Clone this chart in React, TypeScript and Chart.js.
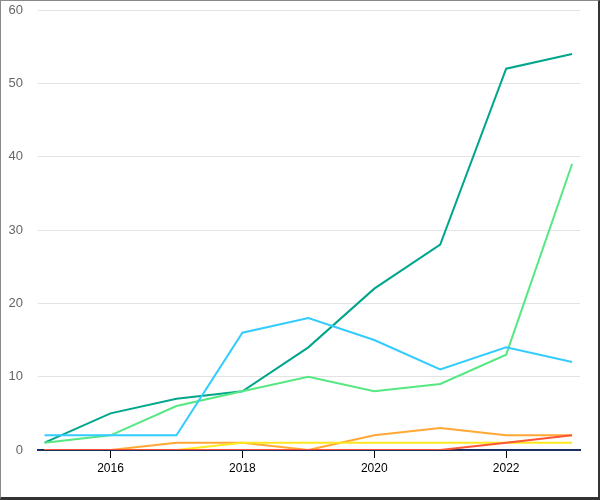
import React, { useEffect, useRef } from "react";
import { Chart, registerables } from "chart.js";

Chart.register(...registerables);

const years = [2015, 2016, 2017, 2018, 2019, 2020, 2021, 2022, 2023];
const xTicks = [2016, 2018, 2020, 2022];
const yTicks = [0, 10, 20, 30, 40, 50, 60];

const tealValues = [1, 5, 7, 8, 14, 22, 28, 52, 54];
const greenValues = [1, 2, 6, 8, 10, 8, 9, 13, 39];
const blueValues = [2, 2, 2, 16, 18, 15, 11, 14, 12];
const orangeValues = [0, 0, 1, 1, 0, 2, 3, 2, 2];
const yellowValues = [0, 0, 0, 1, 1, 1, 1, 1, 1];
const redValues = [0, 0, 0, 0, 0, 0, 0, 1, 2];

const series = [
  { name: "Red", values: redValues, color: "#ff5533" },
  { name: "Yellow", values: yellowValues, color: "#ffe81f" },
  { name: "Orange", values: orangeValues, color: "#ffa836" },
  { name: "Blue", values: blueValues, color: "#33ccff" },
  { name: "Green", values: greenValues, color: "#55e883" },
  { name: "Teal", values: tealValues, color: "#00a68c" },
];

export default function App() {
  const ref = useRef<HTMLCanvasElement | null>(null);

  useEffect(() => {
    document.body.style.margin = "0";
    const canvas = ref.current;
    if (!canvas) return;
    const chart = new Chart(canvas, {
      type: "line",
      data: {
        datasets: series.map((s) => ({
          label: s.name,
          data: years.map((y, i) => ({ x: y, y: s.values[i] })),
          borderColor: s.color,
          backgroundColor: s.color,
          borderWidth: 2,
          pointRadius: 0,
          tension: 0,
          fill: false,
        })),
      },
      options: {
        responsive: false,
        animation: false,
        layout: { padding: { left: 0, top: 10, right: 20, bottom: 2 } },
        plugins: { legend: { display: false }, tooltip: { enabled: false } },
        scales: {
          x: {
            type: "linear",
            min: 2014.9,
            max: 2023.12,
            afterBuildTicks: (scale: any) => {
              scale.ticks = xTicks.map((v) => ({ value: v }));
            },
            afterFit: (scale: any) => {
              scale.height = 48;
            },
            ticks: {
              color: "#000",
              font: { family: "Liberation Sans, Arial, sans-serif", size: 12 },
              padding: 3,
              maxRotation: 0,
              callback: (v: any) => String(v),
            },
            grid: {
              drawOnChartArea: false,
              drawTicks: true,
              tickLength: 8,
              tickColor: "#000",
              color: "#000",
            },
            border: { display: true, color: "#1c2f5e", width: 2 },
          },
          y: {
            type: "linear",
            min: 0,
            max: 60,
            afterBuildTicks: (scale: any) => {
              scale.ticks = yTicks.map((v) => ({ value: v }));
            },
            afterFit: (scale: any) => {
              scale.width = 38;
              scale.paddingTop = 0;
            },
            ticks: {
              color: "#666",
              font: { family: "Liberation Sans, Arial, sans-serif", size: 13 },
              padding: 15,
            },
            grid: { color: "#e3e3e3", drawTicks: false, lineWidth: 1 },
            border: { display: false },
          },
        },
      },
    });
    return () => chart.destroy();
  }, []);

  return (
    <div style={{ position: "relative", width: 600, height: 500 }}>
      <canvas ref={ref} width={600} height={500} style={{ display: "block" }} />
      <div
        style={{
          position: "absolute",
          inset: 0,
          boxSizing: "border-box",
          borderTop: "1px solid #8a8a8a",
          borderLeft: "1px solid #8a8a8a",
          borderRight: "2px solid #333",
          borderBottom: "3px solid #333",
          pointerEvents: "none",
        }}
      />
    </div>
  );
}
